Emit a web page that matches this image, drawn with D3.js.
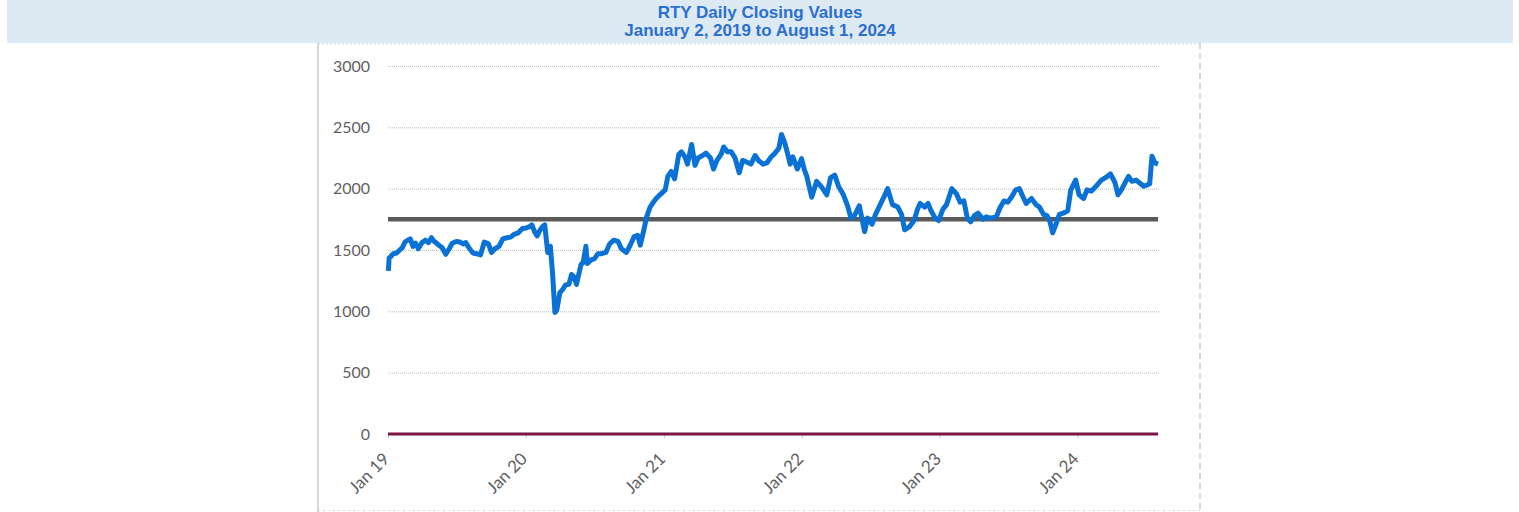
<!DOCTYPE html>
<html>
<head>
<meta charset="utf-8">
<script src="https://cdn.jsdelivr.net/npm/d3@7"></script>
<style>
  body { margin: 0; background: #fff; }
  svg { display: block; }
</style>
</head>
<body>
<script>
// chart text
var titleLines = ["RTY Daily Closing Values", "January 2, 2019 to August 1, 2024"];

// y axis ticks
var yTicks = [0, 500, 1000, 1500, 2000, 2500, 3000];

// x axis ticks (first of january each year)
var xTicks = ["2019-01-01", "2020-01-01", "2021-01-01", "2022-01-01", "2023-01-01", "2024-01-01"];

// closing values
var closeDates = [
  "2019-01-02","2019-01-04","2019-01-08","2019-01-15","2019-01-24","2019-02-01","2019-02-08","2019-02-15","2019-02-22","2019-03-01","2019-03-08","2019-03-15","2019-03-22","2019-04-01","2019-04-10","2019-04-18","2019-04-26","2019-05-03","2019-05-08","2019-05-15","2019-05-24","2019-06-03","2019-06-12","2019-06-20","2019-07-01","2019-07-10","2019-07-19","2019-07-26","2019-08-05","2019-08-14","2019-08-23","2019-09-03","2019-09-13","2019-09-24","2019-10-02","2019-10-11","2019-10-22","2019-11-01","2019-11-12","2019-11-22","2019-12-02","2019-12-12","2019-12-23",
  "2020-01-02","2020-01-10","2020-01-17","2020-01-24","2020-01-31","2020-02-07","2020-02-14","2020-02-20","2020-02-28","2020-03-06","2020-03-12","2020-03-18","2020-03-23","2020-03-31","2020-04-08","2020-04-15","2020-04-24","2020-05-01","2020-05-08","2020-05-14","2020-05-26","2020-06-01","2020-06-08","2020-06-12","2020-06-22","2020-07-01","2020-07-10","2020-07-20","2020-07-31","2020-08-10","2020-08-21","2020-09-01","2020-09-10","2020-09-23","2020-10-02","2020-10-14","2020-10-23","2020-10-30","2020-11-09","2020-11-16","2020-11-25","2020-12-04","2020-12-11","2020-12-21",
  "2021-01-04","2021-01-11","2021-01-20","2021-01-29","2021-02-09","2021-02-16","2021-02-25","2021-03-04","2021-03-15","2021-03-24","2021-04-01","2021-04-13","2021-04-22","2021-05-04","2021-05-12","2021-05-21","2021-06-01","2021-06-08","2021-06-18","2021-06-28","2021-07-08","2021-07-19","2021-07-28","2021-08-06","2021-08-19","2021-08-30","2021-09-08","2021-09-20","2021-09-30","2021-10-12","2021-10-22","2021-11-01","2021-11-08","2021-11-16","2021-11-23","2021-12-01","2021-12-08","2021-12-20","2021-12-31",
  "2022-01-07","2022-01-14","2022-01-27","2022-02-09","2022-02-23","2022-03-08","2022-03-18","2022-03-29","2022-04-08","2022-04-21","2022-05-02","2022-05-11","2022-05-20","2022-06-02","2022-06-16","2022-06-24","2022-07-06","2022-07-15","2022-07-29","2022-08-09","2022-08-16","2022-08-29","2022-09-12","2022-09-22","2022-09-30","2022-10-13","2022-10-25","2022-11-03","2022-11-10","2022-11-22","2022-12-01","2022-12-09","2022-12-20","2022-12-29",
  "2023-01-09","2023-01-19","2023-02-02","2023-02-14","2023-02-24","2023-03-06","2023-03-15","2023-03-24","2023-04-03","2023-04-13","2023-04-26","2023-05-04","2023-05-16","2023-05-31","2023-06-09","2023-06-20","2023-06-30","2023-07-12","2023-07-21","2023-07-31","2023-08-10","2023-08-18","2023-09-01","2023-09-13","2023-09-22","2023-10-03","2023-10-12","2023-10-20","2023-10-27","2023-11-06","2023-11-14","2023-11-24","2023-12-06","2023-12-14","2023-12-27",
  "2024-01-05","2024-01-17","2024-01-26","2024-02-06","2024-02-13","2024-02-22","2024-03-04","2024-03-15","2024-03-28","2024-04-09","2024-04-17","2024-04-26","2024-05-06","2024-05-15","2024-05-24","2024-06-04","2024-06-12","2024-06-24","2024-07-03","2024-07-10","2024-07-16","2024-07-24","2024-08-01"
];
var closeValues = [
  1330,1435,1445,1470,1475,1500,1520,1565,1580,1590,1530,1555,1510,1560,1580,1560,1600,1570,1560,1540,1520,1465,1510,1555,1570,1565,1550,1560,1510,1475,1470,1460,1565,1550,1480,1510,1530,1590,1600,1605,1630,1640,1675,
  1680,1690,1705,1650,1615,1660,1690,1705,1480,1530,1300,991,1010,1150,1180,1215,1220,1300,1280,1220,1380,1400,1530,1390,1420,1430,1470,1470,1480,1550,1580,1570,1510,1480,1530,1610,1620,1540,1670,1770,1850,1890,1920,1950,
  1990,2100,2140,2080,2280,2300,2260,2200,2360,2190,2250,2270,2290,2250,2160,2230,2280,2340,2300,2300,2250,2130,2230,2220,2200,2270,2230,2200,2210,2260,2290,2330,2442,2380,2300,2200,2260,2160,2245,
  2160,2100,1930,2060,2010,1950,2090,2110,2020,1950,1860,1760,1780,1860,1650,1760,1710,1790,1880,1950,2000,1870,1850,1790,1665,1690,1740,1830,1880,1850,1880,1820,1760,1740,
  1830,1870,2000,1960,1890,1900,1760,1730,1780,1800,1750,1770,1760,1770,1840,1900,1890,1940,1990,2000,1930,1880,1920,1870,1850,1790,1780,1730,1640,1720,1790,1800,1820,1990,2070,
  1950,1920,1990,1980,2000,2030,2070,2090,2120,2050,1950,1990,2050,2100,2060,2070,2050,2020,2030,2040,2265,2210,2200
];

// reference levels drawn as flat lines
var meanLevel = [1750];
var floorLevel = [0];

var W = 1519, H = 512;
var svg = d3.select("body").append("svg")
    .attr("width", W)
    .attr("height", H);

// title bar
svg.append("rect")
    .attr("x", 7)
    .attr("y", 0)
    .attr("width", 1506)
    .attr("height", 43)
    .attr("fill", "#dde9f3");

svg.selectAll(".title")
    .data(titleLines)
    .enter()
    .append("text")
    .attr("class", "title")
    .text(function(d) { return d; })
    .attr("x", 760)
    .attr("y", function(d, i) { return 18 + i * 18; })
    .attr("text-anchor", "middle")
    .style("font-family", "'Liberation Sans', Arial, sans-serif")
    .style("font-weight", "bold")
    .style("font-size", "17px")
    .style("fill", "#2b6fd0");

// frame around the chart picture
svg.append("line")
    .attr("x1", 318).attr("x2", 318)
    .attr("y1", 43).attr("y2", 512)
    .attr("stroke", "#c8c8c8")
    .attr("stroke-width", 1.5);
svg.append("line")
    .attr("x1", 318).attr("x2", 1200)
    .attr("y1", 44).attr("y2", 44)
    .attr("stroke", "#d0d0d0")
    .attr("stroke-dasharray", "2,2");
svg.append("line")
    .attr("x1", 1200).attr("x2", 1200)
    .attr("y1", 43).attr("y2", 512)
    .attr("stroke", "#d6d6d6")
    .attr("stroke-width", 2)
    .attr("stroke-dasharray", "6,4");
svg.append("line")
    .attr("x1", 318).attr("x2", 1200)
    .attr("y1", 510.5).attr("y2", 510.5)
    .attr("stroke", "#d6d6d6")
    .attr("stroke-dasharray", "2,3");

var parse = d3.timeParse("%Y-%m-%d");

var x = d3.scaleTime()
    .domain([parse("2019-01-01"), parse("2024-08-01")])
    .range([388, 1158]);

var y = d3.scaleLinear()
    .domain([0, 3000])
    .range([434, 66]);

// y axis with dotted gridlines
var yAxis = svg.append("g")
    .attr("transform", "translate(388,0)")
    .call(d3.axisLeft(y)
        .tickValues(yTicks)
        .tickSize(-772)
        .tickPadding(18)
        .tickFormat(d3.format("d")));
yAxis.select(".domain").remove();
yAxis.selectAll(".tick line")
    .attr("stroke", "#bdbdbd")
    .attr("stroke-dasharray", "1,1");
yAxis.selectAll(".tick text")
    .style("font-family", "Lato, 'Open Sans', sans-serif")
    .style("font-size", "16px")
    .style("fill", "#5f5f5f");

// x axis with rotated labels
var xAxis = svg.append("g")
    .attr("transform", "translate(0,434)")
    .call(d3.axisBottom(x)
        .tickValues(xTicks.map(parse))
        .tickSize(4)
        .tickFormat(d3.timeFormat("Jan %y")));
xAxis.select(".domain").remove();
xAxis.selectAll(".tick line")
    .attr("stroke", "#c8c8c8");
xAxis.selectAll(".tick text")
    .attr("text-anchor", "end")
    .attr("x", 0)
    .attr("y", 0)
    .attr("dy", 0)
    .attr("transform", "translate(2,26) rotate(-45)")
    .style("font-family", "Lato, 'Open Sans', sans-serif")
    .style("font-size", "17px")
    .style("fill", "#5f5f5f");

// zero line
svg.selectAll(".floor")
    .data(floorLevel)
    .enter()
    .append("line")
    .attr("class", "floor")
    .attr("x1", x(parse("2019-01-01")))
    .attr("x2", x(parse("2024-08-01")))
    .attr("y1", function(d) { return y(d); })
    .attr("y2", function(d) { return y(d); })
    .attr("stroke", "#7d1546")
    .attr("stroke-width", 3);

// mean line
svg.selectAll(".mean")
    .data(meanLevel)
    .enter()
    .append("line")
    .attr("class", "mean")
    .attr("x1", x(parse("2019-01-01")))
    .attr("x2", x(parse("2024-08-01")))
    .attr("y1", function(d) { return y(d); })
    .attr("y2", function(d) { return y(d); })
    .attr("stroke", "#5a5a5a")
    .attr("stroke-width", 4.5);

// closing values
var series = closeDates.map(function(d, i) {
  return { date: parse(d), value: closeValues[i] };
});

var line = d3.line()
    .x(function(d) { return x(d.date); })
    .y(function(d) { return y(d.value); });

svg.append("path")
    .datum(series)
    .attr("d", line)
    .attr("fill", "none")
    .attr("stroke", "#0a72d4")
    .attr("stroke-width", 5)
    .attr("stroke-linejoin", "round");
</script>
</body>
</html>
